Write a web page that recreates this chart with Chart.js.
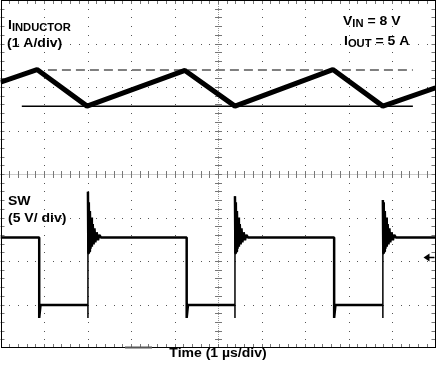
<!DOCTYPE html>
<html lang="en">
<head>
    <meta charset="UTF-8">
    <title>Inductor current and SW node</title>
    <script src="https://cdn.jsdelivr.net/npm/chart.js"></script>
    <style>
        body { margin: 0; background: #fff; }
    </style>
</head>
<body>
    <canvas id="scope" width="437" height="367"></canvas>

    <script>
        // time in us (1 us/div), amplitude in screen divisions (0 = bottom, 8 = top)
        const ilTime = [0, 0.84, 1.99, 4.24, 5.39, 7.64, 8.79, 10];
        const ilDiv  = [6.11, 6.40, 5.56, 6.38, 5.56, 6.40, 5.56, 5.98];

        // cursor lines marking peak and valley of the ripple
        const peakLine   = { from: 1.09, to: 9.48, level: 6.39 };
        const valleyLine = { from: 0.49, to: 9.48, level: 5.56 };

        // SW node
        const swHigh = 2.54;
        const swLow = 0.99;
        const swUndershoot = 0.69;
        const fallTimes = [0.89, 4.28, 7.67];
        const riseTimes = [2.01, 5.39, 8.79];
        const spikeTops = [3.59, 3.49, 3.40];
        // ringing after each rising edge: time offset (us) and level (div)
        const ringDt    = [0.01, 0.02, 0.03, 0.045, 0.06, 0.075, 0.09, 0.11, 0.13, 0.15, 0.17, 0.2, 0.23, 0.26, 0.3];
        const ringLevel = [2.18, 3.35, 2.22, 3.15, 2.28, 3.0, 2.33, 2.85, 2.38, 2.75, 2.43, 2.66, 2.48, 2.6, 2.54];

        const triggerLevel = 2.09;

        const ilData = ilTime.map((t, i) => ({ x: t, y: ilDiv[i] }));

        const swData = [{ x: 0, y: swHigh }];
        fallTimes.forEach((tf, i) => {
            const tr = riseTimes[i];
            swData.push({ x: tf, y: swHigh }, { x: tf, y: swUndershoot }, { x: tf + 0.03, y: swLow });
            swData.push({ x: tr, y: swLow }, { x: tr, y: swUndershoot }, { x: tr, y: spikeTops[i] });
            ringDt.forEach((dt, k) => swData.push({ x: tr + dt, y: ringLevel[k] }));
        });
        swData.push({ x: 10, y: swHigh });

        // scope graticule: dotted divisions, centre cross and edge ticks
        const graticule = {
            id: "graticule",
            beforeDatasetsDraw(chart) {
                const ctx = chart.ctx;
                const xs = chart.scales.x, ys = chart.scales.y;
                const a = chart.chartArea;
                const px = v => Math.round(xs.getPixelForValue(v));
                const py = v => Math.round(ys.getPixelForValue(v));
                ctx.save();

                ctx.fillStyle = "#555";
                for (let i = 1; i < 10; i++) {
                    if (i === 5) continue;
                    for (let k = 1; k < 40; k++) ctx.fillRect(px(i), py(k * 0.2), 1, 1);
                }
                for (let j = 1; j < 8; j++) {
                    if (j === 4) continue;
                    for (let k = 1; k < 50; k++) ctx.fillRect(px(k * 0.2), py(j), 1, 1);
                }

                // centre lines
                ctx.strokeStyle = "#999";
                ctx.lineWidth = 1;
                ctx.setLineDash([1, 1]);
                ctx.beginPath();
                ctx.moveTo(px(5) + 0.5, a.top);
                ctx.lineTo(px(5) + 0.5, a.bottom);
                ctx.moveTo(a.left, py(4) + 0.5);
                ctx.lineTo(a.right, py(4) + 0.5);
                ctx.stroke();
                ctx.setLineDash([]);

                ctx.strokeStyle = "#777";
                ctx.beginPath();
                for (let k = 1; k < 50; k++) {
                    const x = px(k * 0.2) + 0.5;
                    ctx.moveTo(x, py(4) - 3); ctx.lineTo(x, py(4) + 4);
                    ctx.moveTo(x, a.top); ctx.lineTo(x, a.top + 4);
                    ctx.moveTo(x, a.bottom); ctx.lineTo(x, a.bottom - 4);
                }
                for (let k = 1; k < 40; k++) {
                    const y = py(k * 0.2) + 0.5;
                    ctx.moveTo(px(5) - 3, y); ctx.lineTo(px(5) + 4, y);
                    ctx.moveTo(a.left, y); ctx.lineTo(a.left + 4, y);
                    ctx.moveTo(a.right, y); ctx.lineTo(a.right - 4, y);
                }
                ctx.stroke();

                // frame
                ctx.strokeStyle = "#000";
                ctx.strokeRect(Math.round(a.left) + 0.5, Math.round(a.top) + 0.5,
                    Math.round(a.width) - 1, Math.round(a.height) - 1);

                // marker on bottom edge
                ctx.lineWidth = 2;
                ctx.strokeStyle = "#555";
                ctx.beginPath();
                ctx.moveTo(px(2.86), a.bottom - 0.5);
                ctx.lineTo(px(3.48), a.bottom - 0.5);
                ctx.stroke();
                ctx.restore();
            },
            afterDraw(chart) {
                const ctx = chart.ctx;
                const xs = chart.scales.x, ys = chart.scales.y;
                const a = chart.chartArea;
                ctx.save();

                // trigger arrow
                const ty = Math.round(ys.getPixelForValue(triggerLevel)) + 0.5;
                ctx.strokeStyle = "#000";
                ctx.fillStyle = "#000";
                ctx.lineWidth = 1.5;
                ctx.beginPath();
                ctx.moveTo(a.right - 1, ty);
                ctx.lineTo(a.right - 9, ty);
                ctx.stroke();
                ctx.beginPath();
                ctx.moveTo(a.right - 12, ty);
                ctx.lineTo(a.right - 6, ty - 4);
                ctx.lineTo(a.right - 6, ty + 4);
                ctx.closePath();
                ctx.fill();

                // labels, stretched a little wider like the scope font
                const sx = 1.12;
                const font = size => "bold " + size + "px 'Liberation Sans', Arial, sans-serif";
                function label(parts, x, y) {
                    let cx = x;
                    parts.forEach(p => {
                        ctx.font = font(p.size);
                        ctx.save();
                        ctx.translate(cx, y + (p.dy || 0));
                        ctx.scale(sx, 1);
                        ctx.fillText(p.text, 0, 0);
                        ctx.restore();
                        cx += ctx.measureText(p.text).width * sx;
                    });
                }
                ctx.textBaseline = "alphabetic";
                ctx.textAlign = "left";
                label([{ text: "I", size: 12.5 }, { text: "INDUCTOR", size: 10, dy: 2 }], 8, 29);
                label([{ text: "(1 A/div)", size: 12.5 }], 7, 47);
                label([{ text: "V", size: 12.5 }, { text: "IN", size: 10, dy: 2 }, { text: " = 8 V", size: 12.5 }], 343, 25);
                label([{ text: "I", size: 12.5 }, { text: "OUT", size: 10, dy: 2 }, { text: " = 5 A", size: 12.5 }], 344, 45);
                label([{ text: "SW", size: 12.5 }], 8, 205);
                label([{ text: "(5 V/ div)", size: 12.5 }], 8, 222);

                ctx.font = font(12.5);
                const title = "Time (1 \u00b5s/div)";
                const w = ctx.measureText(title).width * sx;
                label([{ text: title, size: 12.5 }], xs.getPixelForValue(5) - w / 2, 357);
                ctx.restore();
            }
        };

        // vertical switching edges are thin, flat parts carry the noise band
        const edgeWidth = c => c.p0.parsed.x === c.p1.parsed.x && c.p0.parsed.y < 2 ? 1.5 : undefined;

        const ctx = document.getElementById("scope").getContext("2d");
        const scopeChart = new Chart(ctx, {
            type: "line",
            data: {
                datasets: [
                    {
                        label: "I inductor",
                        data: ilData,
                        borderColor: "#000",
                        borderWidth: 5,
                        borderJoinStyle: "bevel"
                    },
                    {
                        label: "Peak",
                        data: [{ x: peakLine.from, y: peakLine.level }, { x: peakLine.to, y: peakLine.level }],
                        borderColor: "#808080",
                        borderWidth: 2,
                        borderDash: [9, 5]
                    },
                    {
                        label: "Valley",
                        data: [{ x: valleyLine.from, y: valleyLine.level }, { x: valleyLine.to, y: valleyLine.level }],
                        borderColor: "#000",
                        borderWidth: 1.5
                    },
                    {
                        label: "SW",
                        data: swData,
                        borderColor: "#000",
                        borderWidth: 2.5,
                        borderJoinStyle: "bevel",
                        segment: { borderWidth: edgeWidth }
                    }
                ]
            },
            options: {
                responsive: false,
                animation: false,
                elements: { point: { radius: 0 }, line: { tension: 0, fill: false } },
                layout: { padding: { left: 0.5, right: 1.5, top: 0, bottom: 19 } },
                scales: {
                    x: { type: "linear", min: 0, max: 10, display: false },
                    y: { type: "linear", min: 0, max: 8, display: false }
                },
                plugins: { legend: { display: false }, tooltip: { enabled: false } }
            },
            plugins: [graticule]
        });
    </script>
</body>
</html>
